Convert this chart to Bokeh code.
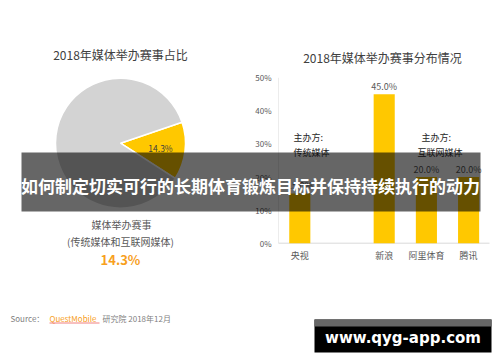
import math
from bokeh.plotting import figure
from bokeh.models import Range1d
from bokeh.core.properties import value
from bokeh.embed import file_html
from bokeh.resources import INLINE

# ---------------- data ----------------
pie_title = "2018年媒体举办赛事占比"
pie_labels = ["媒体举办赛事", "其他"]
pie_shares = [14.3, 85.7]
pie_caption = ["媒体举办赛事", "(传统媒体和互联网媒体)"]

bar_title = "2018年媒体举办赛事分布情况"
bar_categories = ["央视", "", "新浪", "阿里体育", "腾讯"]
bar_values = [15.0, None, 45.0, 20.0, 20.0]
y_ticks = [0, 10, 20, 30, 40, 50]
host_notes = [("主办方:", "传统媒体"), ("主办方:", "互联网媒体")]

banner_text = "如何制定切实可行的长期体育锻炼目标并保持持续执行的动力"
source_parts = ["Source：", "QuestMobile", "研究院 2018年12月"]
watermark = "www.qyg-app.com"

# ---------------- layout ----------------
CJK = "Noto Sans CJK SC"
W, H = 500, 362


def Y(py):
    return H - py


p = figure(width=W, height=H, x_range=Range1d(0, W), y_range=Range1d(0, H),
           output_backend="svg", toolbar_location=None, min_border=0)
p.axis.visible = False
p.grid.visible = False
p.outline_line_color = None
p.background_fill_color = "white"
p.border_fill_color = "white"

# bar chart scales (slot index -> page x, percent -> page y)
bx0, bdx = 299.3, 42.2
py0, pys = 242.7, 3.308
p.extra_x_ranges = {"cat": Range1d((0 - bx0) / bdx, (W - bx0) / bdx)}
p.extra_y_ranges = {"pct": Range1d((0 - Y(py0)) / pys, (H - Y(py0)) / pys)}


def txt(x, y, s, size, color, align="left", baseline="middle", style="normal",
        font=CJK, xr="default", yr="default", yoff=0):
    p.text(x=[x], y=[y], text=[s], text_font=value(font), text_font_size=f"{size}px",
           text_color=color, text_align=align, text_baseline=baseline,
           text_font_style=style, x_range_name=xr, y_range_name=yr, y_offset=yoff)


# ---------------- pie ----------------
cx, cy, r = 120, Y(142.7), 65
start = math.radians(-32.7)
pie_colors = ["#ffc800", "#d3d3d3"]
a = start
angles = []
for share, col in zip(pie_shares, pie_colors):
    b = a + share / 100 * 2 * math.pi
    p.wedge(x=cx, y=cy, radius=r, start_angle=a, end_angle=b, fill_color=col,
            line_color="white", line_width=1.5)
    angles.append((a, b))
    a = b
mid = (angles[0][0] + angles[0][1]) / 2
txt(cx + 0.62 * r * math.cos(mid), cy + 0.62 * r * math.sin(mid),
    f"{pie_shares[0]:.1f}%", 8.5, "#404040", align="center")

txt(120, Y(54), pie_title, 12, "#404040", align="center")
txt(121, Y(224), pie_caption[0], 10, "#595959", align="center")
txt(120, Y(240.5), pie_caption[1], 10, "#595959", align="center")
txt(120, Y(259), f"{pie_shares[0]:.1f}%", 13, "#f7a01e", align="center", style="bold")

# ---------------- bars ----------------
txt(382, Y(57), bar_title, 12, "#404040", align="center")

# axis lines
p.segment(x0=278, y0=0, x1=278, y1=50, line_color="#ececec", line_width=1, y_range_name="pct")
p.segment(x0=278, y0=0, x1=489, y1=0, line_color="#d9d9d9", line_width=1, y_range_name="pct")

for t in y_ticks:
    txt(271, t, f"{t}%", 8, "#595959", align="right", yr="pct")

xs = [i for i, v in enumerate(bar_values) if v is not None]
tops = [v for v in bar_values if v is not None]
p.vbar(x=xs, top=tops, bottom=0, width=0.5, fill_color="#ffc800", line_color=None,
       x_range_name="cat", y_range_name="pct")
for i, v in zip(xs, tops):
    txt(i, v, f"{v:.1f}%", 9, "#595959", align="center", xr="cat", yr="pct", yoff=-8)
for i, c in enumerate(bar_categories):
    if c:
        txt(i, Y(255), c, 9, "#595959", align="center", xr="cat")

txt(293, Y(137.3), host_notes[0][0], 9, "#262626")
txt(293, Y(151.7), host_notes[0][1], 9, "#262626")
txt(421, Y(137.3), host_notes[1][0], 9, "#262626")
txt(417, Y(151.7), host_notes[1][1], 9, "#262626")

# ---------------- source ----------------
txt(10, Y(318), source_parts[0], 8, "#7f7f7f")
txt(49, Y(318), source_parts[1], 8, "#f7a01e")
p.segment(x0=49, y0=Y(322.5), x1=99, y1=Y(322.5), line_color="#f08080", line_width=1)
txt(102, Y(318), source_parts[2], 8, "#7f7f7f")

# ---------------- overlays ----------------
p.quad(left=21, right=480, top=Y(152), bottom=Y(211), fill_color="black",
       fill_alpha=0.6, line_color=None)
txt(250, Y(184.5), banner_text, 17, "white", align="center", style="bold")

p.quad(left=314, right=491, top=Y(319), bottom=Y(352), fill_color="black", line_color=None)
p.quad(left=314, right=491, top=Y(319), bottom=Y(326), fill_color="#666666", line_color=None)
txt(402.5, Y(337.5), watermark, 15, "white", align="center", style="bold", font="DejaVu Sans")

open("out.html", "w").write(file_html(p, INLINE))
